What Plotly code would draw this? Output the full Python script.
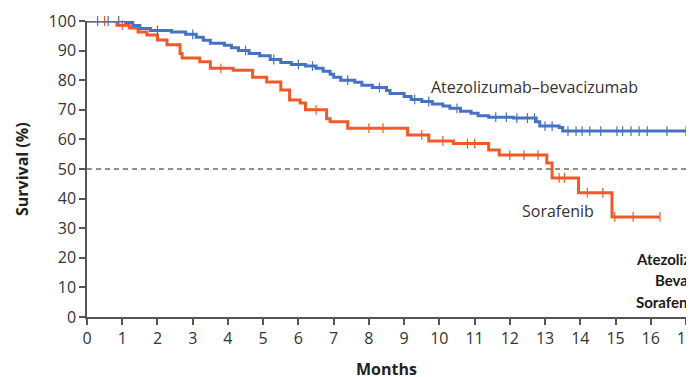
import numpy as np
import plotly.graph_objects as go

# ---- data ----
atezo_t = [0, 1.1, 1.3, 1.5, 1.8, 2.4, 2.8, 3.1, 3.3, 3.5, 3.9, 4.1, 4.3, 4.6, 4.9, 5.2, 5.5, 5.8,
           6.2, 6.5, 6.7, 6.9, 7.0, 7.2, 7.6, 7.8, 8.1, 8.5, 8.6, 9.0, 9.2, 9.5, 9.8, 10.1, 10.3,
           10.6, 10.9, 11.1, 11.4, 12.1, 12.75, 12.85, 13.4, 13.5, 17.0]
atezo_s = [100, 99.5, 98.5, 97.5, 96.8, 96.3, 95.5, 94.5, 93.5, 92.5, 91.8, 91, 90, 89, 88.3, 87,
           86, 85.3, 84.8, 84, 83, 82, 81, 80, 79.3, 78.3, 77.5, 76.5, 75.5, 74.5, 73.5, 72.8, 72,
           71.3, 70.5, 69.5, 68.8, 68, 67.5, 67.2, 66, 64.5, 64, 62.8, 62.8]
atezo_censor = [0.3, 0.6, 0.9, 2.0, 3.0, 4.5, 5.3, 6.0, 6.4, 7.4, 8.3, 9.3, 9.7, 10.5, 11.6, 11.9,
                12.2, 12.5, 12.7, 13.0, 13.2, 13.65, 13.88, 14.05, 14.27, 14.58, 15.04, 15.2,
                15.44, 15.67, 15.9, 16.46, 17.0]

sora_t = [0, 0.85, 1.2, 1.45, 1.7, 2.0, 2.27, 2.64, 2.7, 3.2, 3.5, 4.15, 4.7, 5.1, 5.5, 5.75,
          6.05, 6.2, 6.8, 6.9, 7.4, 9.1, 9.7, 10.4, 11.4, 11.7, 13.05, 13.2, 13.95, 14.9, 16.26]
sora_s = [100, 98.6, 97.6, 96.3, 95.3, 93.6, 92, 89, 87.5, 86.2, 84, 83.4, 81, 79.4, 76.7, 73.3,
          72.3, 70, 67, 66, 63.8, 61.5, 59.5, 58.6, 56.4, 54.7, 52, 47, 42, 33.8, 33.8]
sora_censor = [0.5, 1.0, 3.8, 6.5, 8.0, 8.4, 9.5, 10.1, 10.8, 11.0, 12.0, 12.4, 12.8,
               13.4, 13.55, 14.2, 14.64, 14.98, 15.5, 16.26]

x_ticks = list(range(0, 18))
y_ticks = list(range(0, 101, 10))

BLUE = "#4672bf"
ORANGE = "#ef5a28"
FONT = "Open Sans"


def step_lookup(t, s, c):
    t = np.asarray(t)
    s = np.asarray(s)
    idx = np.searchsorted(t, np.asarray(c), side="right") - 1
    return s[np.clip(idx, 0, len(s) - 1)]


fig = go.Figure()

for t, s, cens, col in [(sora_t, sora_s, sora_censor, ORANGE), (atezo_t, atezo_s, atezo_censor, BLUE)]:
    fig.add_trace(go.Scatter(x=t, y=s, mode="lines", line=dict(color=col, width=3, shape="hv"),
                             cliponaxis=False, showlegend=False, hoverinfo="skip"))
    fig.add_trace(go.Scatter(x=cens, y=step_lookup(t, s, cens), mode="markers",
                             marker=dict(symbol="line-ns-open", size=7, color=col,
                                         line=dict(color=col, width=1.2)),
                             cliponaxis=False, showlegend=False, hoverinfo="skip"))

# 50% reference line
fig.add_shape(type="line", x0=0, x1=17, y0=50, y1=50, xref="x", yref="y",
              line=dict(color="#222", width=1, dash="5px,4px"), layer="below")

txt = dict(family=FONT, size=16, color="#333")
fig.add_annotation(x=9.72, y=77.7, text="Atezolizumab–bevacizumab", showarrow=False,
                   xanchor="left", yanchor="middle", font=txt)
fig.add_annotation(x=12.29, y=35.8, text="Sorafenib", showarrow=False,
                   xanchor="left", yanchor="middle", font=txt)

bold = dict(family="Lato", size=15, color="#1a1a1a")
for xx, yy, s in [(15.52, 19.6, "<b>Atezolizumab–</b>"), (16.06, 12.5, "<b>Bevacizumab</b>"),
                  (15.52, 5.1, "<b>Sorafenib</b>")]:
    fig.add_annotation(x=xx, y=yy, text=s, showarrow=False, xanchor="left", yanchor="middle", font=bold)

# axis titles
title_font = dict(family=FONT, size=16, color="#222")
fig.add_annotation(xref="paper", yref="paper", x=-0.1085, y=0.5, text="<b>Survival (%)</b>",
                   textangle=-90, showarrow=False, xanchor="center", yanchor="middle", font=title_font)
fig.add_annotation(xref="paper", yref="paper", x=0.5, y=-0.176, text="<b>Months</b>",
                   showarrow=False, xanchor="center", yanchor="middle", font=title_font)

axis_common = dict(showgrid=False, zeroline=False, showline=True, linecolor="#555", linewidth=1.5,
                   ticks="outside", ticklen=6, tickwidth=1.5, tickcolor="#555", automargin=False,
                   ticklabeloverflow="allow",
                   tickfont=dict(family=FONT, size=16, color="#333"))

fig.update_xaxes(range=[0, 17], tickvals=x_ticks, ticktext=[str(v) for v in x_ticks], **axis_common)
fig.update_yaxes(range=[0, 100], tickvals=y_ticks, ticktext=[str(v) for v in y_ticks], **axis_common)

# page body has an 8px margin, so the figure is sized to fit the 694x377 window
fig.update_layout(width=686, height=369, margin=dict(l=79, r=8, t=13, b=60),
                  paper_bgcolor="white", plot_bgcolor="white")

fig.write_html("out.html")
